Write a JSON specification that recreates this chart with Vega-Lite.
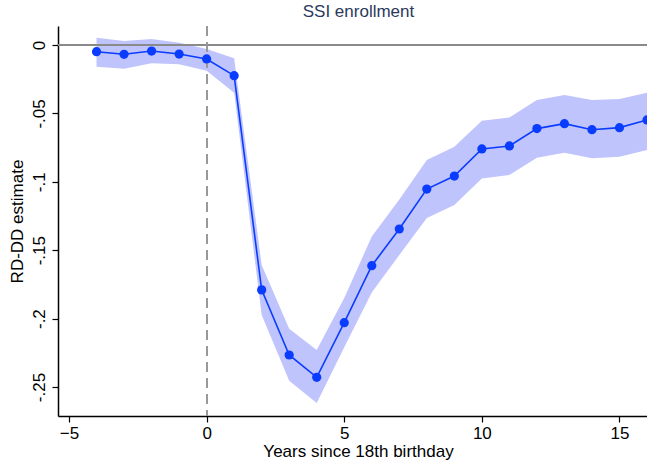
{
  "$schema": "https://vega.github.io/schema/vega-lite/v6.json",
  "width": 589,
  "height": 390,
  "autosize": {"type": "none"},
  "padding": {"left": 58, "top": 26, "right": 0, "bottom": 48},
  "background": "white",
  "config": {
    "view": {"stroke": null},
    "font": "Liberation Sans",
    "axis": {"grid": false, "domainColor": "black", "tickColor": "black", "labelColor": "black", "titleColor": "black", "labelFont": "Liberation Sans", "titleFont": "Liberation Sans", "titleFontWeight": "normal"}
  },
  "title": {"text": "SSI enrollment", "fontSize": 17, "fontWeight": "normal", "color": "#2b3a5c", "font": "Liberation Sans", "anchor": "middle", "offset": 4, "dx": 6},
  "data": {
    "values": [
      {"year": -4, "est": -0.0049, "lo": -0.0159, "hi": 0.0053},
      {"year": -3, "est": -0.0068, "lo": -0.0173, "hi": 0.0030},
      {"year": -2, "est": -0.0044, "lo": -0.0134, "hi": 0.0044},
      {"year": -1, "est": -0.0066, "lo": -0.0140, "hi": 0.0017},
      {"year": 0, "est": -0.0102, "lo": -0.0188, "hi": -0.0029},
      {"year": 1, "est": -0.0224, "lo": -0.0349, "hi": -0.0097},
      {"year": 2, "est": -0.1790, "lo": -0.1974, "hi": -0.1608},
      {"year": 3, "est": -0.2266, "lo": -0.2455, "hi": -0.2074},
      {"year": 4, "est": -0.2429, "lo": -0.2617, "hi": -0.2230},
      {"year": 5, "est": -0.2030, "lo": -0.2210, "hi": -0.1850},
      {"year": 6, "est": -0.1613, "lo": -0.1810, "hi": -0.1400},
      {"year": 7, "est": -0.1345, "lo": -0.1535, "hi": -0.1130},
      {"year": 8, "est": -0.1053, "lo": -0.1265, "hi": -0.0840},
      {"year": 9, "est": -0.0958, "lo": -0.1170, "hi": -0.0743},
      {"year": 10, "est": -0.0760, "lo": -0.0975, "hi": -0.0553},
      {"year": 11, "est": -0.0738, "lo": -0.0950, "hi": -0.0529},
      {"year": 12, "est": -0.0611, "lo": -0.0824, "hi": -0.0402},
      {"year": 13, "est": -0.0575, "lo": -0.0787, "hi": -0.0366},
      {"year": 14, "est": -0.0619, "lo": -0.0828, "hi": -0.0402},
      {"year": 15, "est": -0.0604, "lo": -0.0816, "hi": -0.0395},
      {"year": 16, "est": -0.0548, "lo": -0.0768, "hi": -0.0349}
    ]
  },
  "encoding": {
    "x": {
      "field": "year", "type": "quantitative",
      "scale": {"domain": [-5.4, 16], "nice": false, "zero": false},
      "axis": {"values": [-5, 0, 5, 10, 15], "title": "Years since 18th birthday", "labelFontSize": 17, "titleFontSize": 17, "tickSize": 6, "domainWidth": 1.5, "tickWidth": 1.2, "labelPadding": 3, "titlePadding": 2, "titleX": 300}
    },
    "y": {
      "field": "est", "type": "quantitative",
      "scale": {"domain": [-0.2712, 0.0139], "nice": false, "zero": false},
      "axis": {
        "values": [0, -0.05, -0.1, -0.15, -0.2, -0.25],
        "labelExpr": "datum.value == 0 ? '0' : '-' + replace(format(abs(datum.value), '.2~f'), '0.', '.')",
        "title": "RD-DD estimate", "labelFontSize": 17, "titleFontSize": 17,
        "labelAngle": 270, "labelAlign": "center", "labelBaseline": "bottom",
        "tickSize": 6, "domainWidth": 1.5, "tickWidth": 1.2, "labelPadding": 4, "titlePadding": 4
      }
    }
  },
  "layer": [
    {
      "mark": {"type": "area", "color": "#c0c4fc", "opacity": 1},
      "encoding": {"y": {"field": "lo", "type": "quantitative"}, "y2": {"field": "hi"}}
    },
    {
      "mark": {"type": "rule", "color": "#8a8a8a", "strokeWidth": 1.4},
      "encoding": {"y": {"datum": 0}, "x": {"value": 0}, "x2": {"value": 589}}
    },
    {
      "mark": {"type": "rule", "color": "#9a9a9a", "strokeWidth": 1.1, "strokeDash": [10, 6]},
      "encoding": {"x": {"datum": 0}, "y": {"value": 0}, "y2": {"value": 390}}
    },
    {
      "mark": {"type": "line", "color": "#0a3cff", "strokeWidth": 1.6, "clip": true},
      "encoding": {}
    },
    {
      "mark": {"type": "point", "filled": true, "color": "#0a3cff", "opacity": 1, "size": 85, "clip": true},
      "encoding": {}
    }
  ]
}
